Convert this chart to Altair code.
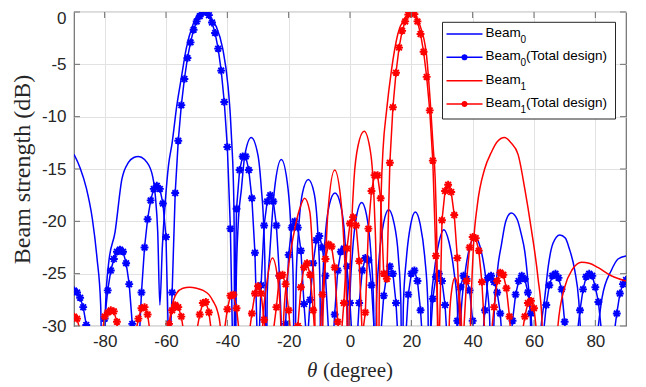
import altair as alt
import pandas as pd

# ---------------- data ----------------
# Beam_0 (smooth curve): angle (deg) and level (dB)
b0_theta = [-90, -88, -86, -84, -82.5, -81.3, -80.5,
            -79.7, -78.7, -76.6, -74.4, -72.3, -70.5, -69, -67, -64.7, -63.5, -62.7, -62.0, -61.2, -60.2,
            -59.2, -58, -56.5, -55, -53.4, -51.2, -49.5, -47.9, -46, -43.6, -41.5, -39.8, -39.0, -38.5,
            -38.1, -37.8, -37.5,
            -37.1, -36.5, -35.4, -34.3, -32.2, -30.0, -28.9, -28.1, -27.7, -27.4,
            -27.0, -26.2, -24.6, -22.4, -20.2, -19.1, -18.5, -18.1,
            -17.6, -16.8, -15.5, -13.6, -11.7, -10.5, -9.8, -9.4,
            -9.0, -8.2, -6.8, -4.9, -3.0, -1.6, -0.9, -0.5,
            -0.1, 0.8, 2.2, 3.8, 5.4, 6.8, 7.7, 8.1,
            8.6, 9.5, 11.0, 12.6, 14.3, 15.8, 16.6, 17.0,
            17.4, 18.4, 19.8, 21.3, 22.9, 24.4, 25.4, 25.9,
            26.4, 27.4, 29.0, 30.6, 32.3, 34.0, 35.0, 35.6,
            36.2, 37.3, 39.0, 40.7, 42.5, 44.3, 45.5, 46.3,
            47.0, 48.2, 49.4, 50.8, 52.6, 54.5, 55.9, 57.0, 58.0, 58.8, 59.5,
            62.5, 63.5, 64.6, 66.2, 68.4, 70.2, 71.5, 73.3, 74.6, 75.3, 78,
            80.8, 82.2, 85.2, 87.4, 90]
b0_db = [-13.6, -14.9, -16.8, -19.8, -23.5, -28, -40,
         -28, -24, -21.0, -16.0, -14.4, -13.9, -13.8, -14.1, -15.3, -17.5, -21, -28.0, -22.5, -18,
         -14.7, -12.5, -9.0, -6.3, -3.5, -1.2, -0.2, 0, -0.4, -1.4, -3.5, -7.0, -10.0, -12.8,
         -15.5, -20, -40,
         -26, -20.5, -16.9, -13.7, -12.0, -13.7, -16.9, -20.7, -25, -40,
         -27, -23.2, -16.9, -14.1, -16.9, -21.5, -26, -40,
         -26, -21, -17.3, -16.0, -17.3, -21, -26, -40,
         -27, -22, -18.5, -17.3, -18.5, -22, -27, -40,
         -28, -23, -19.4, -18.2, -19.4, -23, -28, -40,
         -28, -23.5, -20.1, -18.9, -20.1, -23.5, -28, -40,
         -28, -23.5, -20.3, -19.1, -20.3, -23.5, -28, -40,
         -28, -25, -22, -20.8, -22, -25, -28, -40,
         -29, -25.5, -22.5, -21.5, -22.5, -25.5, -29, -40,
         -29, -24.4, -22.2, -20.0, -19.2, -19.8, -21.3, -22.9, -25.7, -29, -40,
         -29.5, -27.3, -24.4, -22.1, -21.3, -21.6, -22.6, -24.7, -27.6, -31, -40,
         -30.5, -27.3, -24.7, -23.6, -23.3]

# Beam_1 (smooth curve)
b1_theta = [-90, -60, -58.8, -57.5, -56.6, -54.5, -52.3, -50, -47.9, -46, -44.7, -43.2, -42.3, -41.5,
            -29.3, -28.4, -27.3, -25.3, -23.5, -22.6, -22.1,
            -21.6, -20.2, -18.0, -16.4, -14.8, -13.1, -12.1, -11.5, -11.0,
            -9.5, -8.8, -8.0, -7.2, -5.0, -2.8, -1.7, -1.0, -0.6,
            -0.2, 0.5, 1.3, 2.6, 4.6, 6.7, 8.0, 8.6, 9.1,
            9.6, 10.2, 10.8, 11.9, 13.5, 15.6, 17.8, 20.0, 22.7, 24.9, 26.2, 27.1, 27.9, 28.4, 28.8,
            31.8, 32.4, 33.2, 34.2, 35.3, 36.3, 37,
            38.7, 39.3, 40.3, 41.5, 43.9, 46.1, 48, 50.4, 52.5, 54.8, 57.0, 59.1, 61.3, 62.6, 63.2,
            67.0, 67.8, 70.0, 72.5, 75.5, 78, 80.8, 85.2, 90]
b1_db = [-40, -40, -29.5, -27.5, -26.9, -26.4, -26.3, -26.4, -26.6, -27.0, -27.6, -28.6, -30, -40,
         -40, -29.5, -26.3, -23.5, -25.7, -29.5, -40,
         -29, -24.7, -20.7, -18.8, -17.8, -19.1, -23.8, -28.5, -40,
         -40, -29, -23.8, -19.1, -15.1, -18.5, -23.8, -29, -40,
         -28, -20.7, -16.0, -12.8, -11.4, -13.4, -19.1, -25.4, -40,
         -26, -17, -13, -9.5, -5.6, -2.1, -0.6, 0, -1.2, -4.0, -8.7, -12.8, -17, -24, -40,
         -40, -29.5, -26.5, -25.4, -26.5, -29.5, -40,
         -40, -30, -22.2, -18.5, -15.0, -13.4, -12.4, -12.0, -12.5, -13.6, -16.9, -20.7, -25.4, -29.5, -40,
         -40, -30, -26.3, -24.6, -23.9, -24.0, -24.4, -25.2, -25.7]

# Total design: one marker per degree
theta_deg = [-90, -89, -88, -87, -86, -85, -84, -83, -82, -81,
             -80, -79, -78, -77, -76, -75, -74, -73, -72, -71,
             -70, -69, -68, -67, -66, -65, -64, -63, -62, -61,
             -60, -59, -58, -57, -56, -55, -54, -53, -52, -51,
             -50, -49, -48, -47, -46, -45, -44, -43, -42, -41,
             -40, -39, -38, -37, -36, -35, -34, -33, -32, -31,
             -30, -29, -28, -27, -26, -25, -24, -23, -22, -21,
             -20, -19, -18, -17, -16, -15, -14, -13, -12, -11,
             -10, -9, -8, -7, -6, -5, -4, -3, -2, -1,
             0, 1, 2, 3, 4, 5, 6, 7, 8, 9,
             10, 11, 12, 13, 14, 15, 16, 17, 18, 19,
             20, 21, 22, 23, 24, 25, 26, 27, 28, 29,
             30, 31, 32, 33, 34, 35, 36, 37, 38, 39,
             40, 41, 42, 43, 44, 45, 46, 47, 48, 49,
             50, 51, 52, 53, 54, 55, 56, 57, 58, 59,
             60, 61, 62, 63, 64, 65, 66, 67, 68, 69,
             70, 71, 72, 73, 74, 75, 76, 77, 78, 79,
             80, 81, 82, 83, 84, 85, 86, 87, 88, 89,
             90]
b0_total_db = [-26.6, -26.8, -27.3, -28.2, -29.9, -33, -38, -40, -36, -32,
               -29.3, -26.6, -24.7, -23.6, -22.9, -22.7, -22.9, -24.0, -26.0, -29.8,
               -34, -33, -26.8, -22.5, -19.8, -18.0, -16.9, -16.6, -16.9, -18.3,
               -21.5, -34, -26.8, -17.3, -12.3, -8.9, -6.4, -4.4, -2.9, -1.7,
               -0.9, -0.4, -0.05, 0.0, -0.3, -1.0, -2.0, -3.5, -5.6, -8.6,
               -12.9, -20.7, -36, -18.8, -15.1, -13.8, -13.8, -15.1, -17.8, -23.0,
               -34, -26.1, -20.4, -18.1, -17.5, -18.1, -20.4, -25.2, -33, -29.8,
               -23.2, -20.6, -20.0, -20.6, -22.8, -27.9, -32, -27.5, -24.0, -21.8,
               -21.4, -22.5, -25.2, -30.5, -34, -28.9, -24.7, -22.9, -22.6, -24.3,
               -27.8, -33, -33, -27.8, -24.7, -23.5, -23.7, -26.1, -31, -35,
               -31, -27.1, -25.0, -24.3, -25.0, -27.8, -33, -35, -32, -27.0,
               -25.0, -24.7, -25.7, -28.5, -33, -36, -32, -27.4, -25.3, -25.0,
               -25.7, -28.0, -33, -36, -33, -29.5, -26.3, -25.2, -25.5, -26.6,
               -29.5, -34, -36, -32, -28.5, -25.4, -25.2, -25.8, -26.8, -28.8,
               -33, -36, -33, -29.5, -27.0, -25.7, -25.2, -25.5, -26.8, -28.8,
               -33, -36, -36, -31, -28.0, -26.1, -25.2, -25.0, -25.4, -26.5,
               -29.6, -34, -37, -35, -31, -28.5, -26.5, -25.3, -25.0, -25.2,
               -26.3, -27.7, -30.5, -34, -36, -34, -31, -28.8, -26.9, -26.0,
               -25.6]
b1_total_db = [-29.1, -29.3, -30.5, -34, -37, -38, -38, -37, -34, -31,
               -29.1, -28.7, -28.5, -28.6, -29.6, -32, -35, -36, -35, -33,
               -30.8, -29.3, -28.3, -28.2, -28.9, -31, -34, -36, -35, -33,
               -30.5, -29.8, -28.5, -28.0, -28.2, -29.1, -31, -34, -35, -33,
               -30.5, -28.9, -27.8, -27.7, -28.7, -31, -34, -35, -33, -30.5,
               -28.4, -27.1, -27.0, -28.3, -31, -34, -33, -31, -28.8, -26.9,
               -26.2, -26.9, -29.4, -33, -34, -30.5, -28.2, -25.2, -25.1, -26.0,
               -28.5, -32, -34, -30, -26.3, -24.4, -24.0, -25.1, -28.5, -33,
               -32, -27.0, -23.6, -22.2, -22.4, -24.4, -29.6, -31.5, -27.8, -22.6,
               -20.2, -19.6, -20.4, -23.8, -31, -28.7, -20.7, -17.1, -15.6, -15.6,
               -17.8, -25.0, -25.5, -14.4, -9.1, -5.8, -3.4, -1.8, -0.9, -0.25,
               0.0, -0.2, -0.9, -2.1, -3.8, -6.2, -9.4, -14.2, -23.3, -33,
               -19.9, -17.1, -16.5, -17.2, -19.4, -23.5, -31, -31, -25.7, -22.5,
               -21.5, -21.6, -22.8, -25.8, -31, -34, -31, -28.2, -25.7, -24.9,
               -25.1, -26.4, -29.1, -33, -35, -34, -31, -29.1, -27.8, -27.6,
               -28.3, -31, -34, -36, -38, -40, -40, -40, -40, -40,
               -40, -40, -40, -40, -40, -40, -40, -40, -40, -40,
               -40, -40, -40, -40, -40, -40, -40, -40, -40, -40,
               -40]

x_ticks = [-80, -60, -40, -20, 0, 20, 40, 60, 80]
y_ticks = [-30, -25, -20, -15, -10, -5, 0]
legend_main = ["Beam", "Beam", "Beam", "Beam"]
legend_sub = ["0", "0", "1", "1"]
legend_tail = ["", "(Total design)", "", "(Total design)"]
legend_marker = [False, True, False, True]

# ---------------- styling ----------------
TOP = 4
W, H = 552, 314
BLUE, RED = "#0000ff", "#ff0000"
FRAME = "#6e6e6e"
STAR = "M-1,0L1,0M0,-1L0,1M-0.72,-0.72L0.72,0.72M-0.72,0.72L0.72,-0.72"
legend_colors = [BLUE, BLUE, RED, RED]

xs = alt.Scale(domain=[-90, 90], nice=False, zero=False)
ys = alt.Scale(domain=[-30, 0], nice=False, zero=False)

plain0 = pd.DataFrame({"theta": b0_theta, "db": b0_db})
plain1 = pd.DataFrame({"theta": b1_theta, "db": b1_db})
tot0 = pd.DataFrame({"theta": theta_deg, "db": b0_total_db})
tot1 = pd.DataFrame({"theta": theta_deg, "db": b1_total_db})

x_axis = alt.Axis(values=x_ticks, grid=True, ticks=False, domain=False, title=None,
                  labelExpr="datum.value + ''", labelPadding=7, gridColor="#e2e2e2",
                  gridWidth=1)
y_axis = alt.Axis(values=y_ticks, grid=True, ticks=False, domain=False,
                  title="Beam strength (dB)", labelExpr="datum.value + ''",
                  labelOffset={"condition": {"test": "datum.value == 0", "value": 6}, "value": 0},
                  labelPadding=8, titlePadding=7, gridColor="#e2e2e2", gridWidth=1)


def X(field="theta"):
    return alt.X(f"{field}:Q", scale=xs, axis=x_axis)


def Y(field="db"):
    return alt.Y(f"{field}:Q", scale=ys, axis=y_axis)


def curve(df, color):
    return alt.Chart(df).mark_line(color=color, strokeWidth=1.5, interpolate="monotone",
                                   clip=True).encode(x=X(), y=Y())


def total(df, color):
    line = alt.Chart(df).mark_line(color=color, strokeWidth=1.5, clip=True).encode(x=X(), y=Y())
    pts = alt.Chart(df).mark_point(shape=STAR, size=62, filled=False, stroke=color,
                                   strokeWidth=1.9, opacity=1, clip=True).encode(x=X(), y=Y())
    return [line, pts]


layers = [curve(plain0, BLUE)]
layers += total(tot0, BLUE)
layers.append(curve(plain1, RED))
layers += total(tot1, RED)

# inward ticks on all four sides
xt = pd.DataFrame({"theta": x_ticks})
yt = pd.DataFrame({"db": y_ticks})
tick_style = dict(color=FRAME, strokeWidth=1)
layers.append(alt.Chart(xt).mark_rule(**tick_style).encode(
    x=X(), y=alt.value(H), y2=alt.value(H - 6)))
layers.append(alt.Chart(xt).mark_rule(**tick_style).encode(
    x=X(), y=alt.value(0), y2=alt.value(6)))
layers.append(alt.Chart(yt).mark_rule(**tick_style).encode(
    y=Y(), x=alt.value(0), x2=alt.value(6)))
layers.append(alt.Chart(yt).mark_rule(**tick_style).encode(
    y=Y(), x=alt.value(W), x2=alt.value(W - 6)))

# x-axis title with italic theta
one = pd.DataFrame({"k": [0]})
layers.append(alt.Chart(one).mark_text(text="\u03b8", font="Liberation Serif", fontStyle="italic",
                                       fontSize=21, align="left", baseline="alphabetic",
                                       color="#262626").encode(x=alt.value(233), y=alt.value(H + 51)))
layers.append(alt.Chart(one).mark_text(text="(degree)", font="Liberation Serif", fontSize=21,
                                       align="left", baseline="alphabetic",
                                       color="#262626").encode(x=alt.value(249), y=alt.value(H + 51)))

# legend box (pixel offsets inside the plot area)
LX0, LX1, LY0, LY1 = 368.5, 541.5, 14.3 - TOP, 111 - TOP
layers.append(alt.Chart(one).mark_rect(fill="white", stroke="#262626", strokeWidth=1).encode(
    x=alt.value(LX0), x2=alt.value(LX1), y=alt.value(LY0), y2=alt.value(LY1)))
row_y = [26 - TOP, 49.3 - TOP, 72.7 - TOP, 96 - TOP]
for i in range(4):
    c = legend_colors[i]
    yy = row_y[i]
    layers.append(alt.Chart(one).mark_rule(color=c, strokeWidth=1.5).encode(
        x=alt.value(372.5), x2=alt.value(408.5), y=alt.value(yy)))
    if legend_marker[i]:
        layers.append(alt.Chart(one).mark_point(shape=STAR, size=36, filled=False, stroke=c,
                                                strokeWidth=1.9, opacity=1).encode(
            x=alt.value(390.5), y=alt.value(yy)))
    layers.append(alt.Chart(one).mark_text(text=legend_main[i], font="Liberation Sans", fontSize=13.5,
                                           align="left", baseline="middle", color="#000000").encode(
        x=alt.value(411.5), y=alt.value(yy - 1)))
    layers.append(alt.Chart(one).mark_text(text=legend_sub[i], font="Liberation Sans", fontSize=10,
                                           align="left", baseline="middle", color="#000000").encode(
        x=alt.value(446.5), y=alt.value(yy + 6)))
    if legend_tail[i]:
        layers.append(alt.Chart(one).mark_text(text=legend_tail[i], font="Liberation Sans",
                                               fontSize=13.5, align="left", baseline="middle",
                                               color="#000000").encode(
            x=alt.value(452), y=alt.value(yy - 1)))

chart = alt.layer(*layers).properties(
    width=W, height=H,
    autosize=alt.AutoSizeParams(type="none"),
    padding={"left": 66, "top": TOP, "right": 12, "bottom": 58},
    background="white",
).configure_view(
    stroke=FRAME, strokeWidth=1.2, fill="white"
).configure_axis(
    labelFont="Liberation Sans", labelFontSize=17, labelColor="#262626",
    titleFont="Liberation Serif", titleFontSize=24, titleFontWeight="normal", titleColor="#262626",
)

chart.save("out.html", embed_options={"renderer": "svg", "actions": False})
